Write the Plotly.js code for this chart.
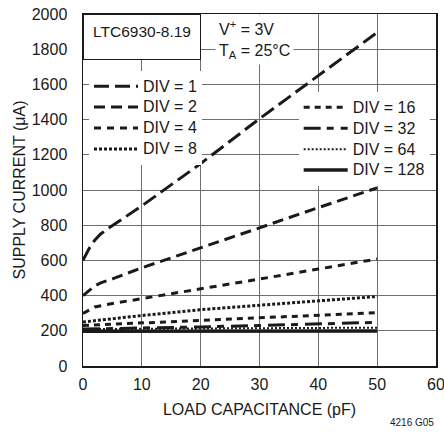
<!DOCTYPE html>
<html>
<head>
<meta charset="utf-8">
<script src="https://cdn.plot.ly/plotly-3.0.1.min.js"></script>
<style>
  html, body { margin: 0; padding: 0; background: #fff; }
  #chart { width: 444px; height: 436px; }
</style>
</head>
<body>
<div id="chart"></div>
<script>
// Supply current vs load capacitance, one curve per divider setting
const xDiv1 = [0, 1, 2, 3, 4, 10, 20, 30, 40, 50];
const div1  = [600, 665, 715, 750, 775, 910, 1150, 1405, 1650, 1895];
const xDiv2 = [0, 1, 2, 3, 5, 10, 20, 30, 40, 50];
const div2  = [400, 430, 455, 472, 495, 558, 670, 785, 900, 1012];
const xDiv4 = [0, 2, 5, 10, 20, 30, 40, 50];
const div4  = [298, 335, 355, 382, 437, 494, 551, 608];
const xDiv8 = [0, 5, 10, 20, 30, 40, 50];
const div8  = [250, 270, 287, 320, 345, 370, 395];
const xLow   = [0, 10, 20, 30, 40, 50];
const div16  = [230, 245, 262, 277, 292, 303];
const div32  = [210, 215, 222, 230, 240, 248];
const div64  = [210, 212, 213, 215, 216, 218];
const div128 = [197, 197, 198, 198, 199, 199];

const divLabels = ['DIV = 1', 'DIV = 2', 'DIV = 4', 'DIV = 8', 'DIV = 16', 'DIV = 32', 'DIV = 64', 'DIV = 128'];

const xTicks = [0, 10, 20, 30, 40, 50, 60];
const yTicks = [0, 200, 400, 600, 800, 1000, 1200, 1400, 1600, 1800, 2000];

const FONT = '"Liberation Sans", Arial, sans-serif';
const INK = '#1a1a1a';
const FS = 16;
// legend rows are spaced from this size; entry text itself is drawn at FS
const LEGEND_ROW_FS = 13.8;

function curve(name, x, y, width, dash, legendId) {
  return {
    type: 'scatter', mode: 'lines',
    name: '<span style="font-size:' + FS + 'px">' + name + '</span>',
    x: x, y: y,
    line: { color: INK, width: width, dash: dash },
    legend: legendId, hoverinfo: 'skip'
  };
}

const traces = [
  curve(divLabels[0], xDiv1, div1, 3, '15px,6px', 'legend'),
  curve(divLabels[1], xDiv2, div2, 3, '11px,6px', 'legend'),
  curve(divLabels[2], xDiv4, div4, 3, '7px,6px', 'legend'),
  curve(divLabels[3], xDiv8, div8, 3, '3px,2px', 'legend'),
  curve(divLabels[4], xLow, div16, 3, '6px,5px', 'legend2'),
  curve(divLabels[5], xLow, div32, 3, '17px,6px,7px,7px', 'legend2'),
  curve(divLabels[6], xLow, div64, 2, '2px,2px', 'legend2'),
  curve(divLabels[7], xLow, div128, 3.5, 'solid', 'legend2')
];

const axisCommon = {
  showgrid: true, gridcolor: '#6e6e6e', gridwidth: 1,
  showline: true, linecolor: INK, linewidth: 1.5, mirror: true,
  zeroline: false, ticks: '', fixedrange: true,
  ticklabeloverflow: 'allow',
  tickfont: { family: FONT, size: FS, color: INK }
};

const legendCommon = {
  xanchor: 'left', yanchor: 'top',
  bgcolor: '#fff', borderwidth: 0, itemwidth: 44,
  font: { family: FONT, size: LEGEND_ROW_FS, color: INK },
  tracegroupgap: 0, itemclick: false, itemdoubleclick: false
};

const layout = {
  width: 444, height: 436,
  margin: { l: 83, r: 8, t: 14, b: 70 },
  paper_bgcolor: '#fff', plot_bgcolor: '#fff',
  font: { family: FONT, size: FS, color: INK },
  showlegend: true,
  xaxis: Object.assign({}, axisCommon, {
    range: [0, 60], tickvals: xTicks, ticktext: xTicks.map(String),
    ticklabelstandoff: 3,
    title: { text: 'LOAD CAPACITANCE (pF)', standoff: 12, font: { family: FONT, size: FS, color: INK } }
  }),
  yaxis: Object.assign({}, axisCommon, {
    range: [0, 2000], tickvals: yTicks, ticktext: yTicks.map(String),
    ticklabelstandoff: 11,
    title: { text: 'SUPPLY CURRENT (μA)', standoff: 2, font: { family: FONT, size: FS, color: INK } }
  }),
  legend: Object.assign({}, legendCommon, { x: 0.017, y: 0.839 }),
  legend2: Object.assign({}, legendCommon, { x: 0.611, y: 0.779 }),
  annotations: [
    {
      xref: 'x', yref: 'y', x: 10, y: 2000, xanchor: 'center', yanchor: 'top',
      text: 'LTC6930-8.19', showarrow: false,
      width: 100, height: 28, borderpad: 8, valign: 'top',
      bgcolor: '#fff', bordercolor: INK, borderwidth: 1,
      font: { family: FONT, size: 15.5, color: INK }
    },
    {
      xref: 'x', yref: 'y', x: 22.4, y: 2000, xanchor: 'left', yanchor: 'top',
      text: 'V<sup>+</sup> = 3V<br>T<sub>A</sub> = 25°C', showarrow: false,
      align: 'left', borderpad: 3, bgcolor: '#fff',
      font: { family: FONT, size: FS, color: INK }
    },
    {
      xref: 'paper', yref: 'paper', x: 1, y: -0.16, xanchor: 'right', yanchor: 'middle',
      text: '4216 G05', showarrow: false,
      font: { family: FONT, size: 10, color: INK }
    }
  ]
};

Plotly.newPlot('chart', traces, layout, { staticPlot: true, displayModeBar: false });
</script>
</body>
</html>
